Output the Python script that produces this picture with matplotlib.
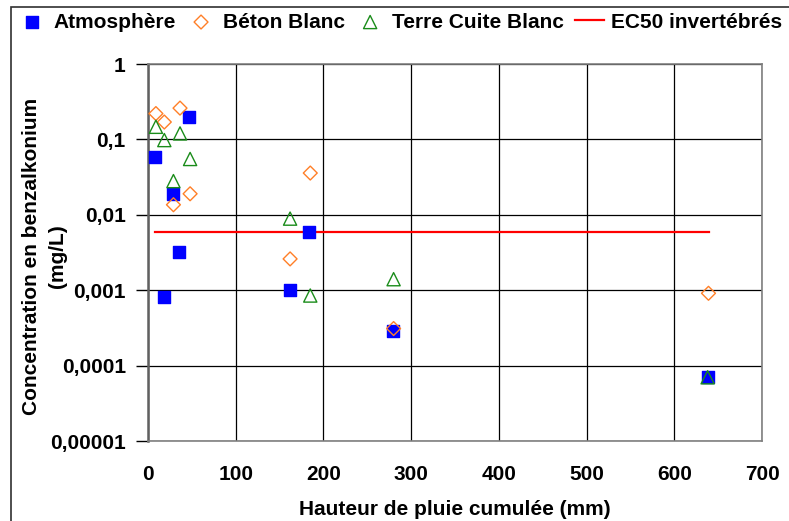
import matplotlib
matplotlib.use("Agg")
import matplotlib.pyplot as plt
from matplotlib.patches import Rectangle
from matplotlib.ticker import FixedLocator, FixedFormatter, NullLocator

plt.rcParams['font.family'] = ['Liberation Sans', 'DejaVu Sans']
plt.rcParams['font.weight'] = 'bold'

# Data
atm_x = [8, 47, 28.5, 35, 18, 184, 161.5, 279, 638]
atm_y = [0.058, 0.2, 0.019, 0.0032, 0.00081, 0.006, 0.001, 0.00029, 0.00007]

beton_x = [9, 36.5, 18.6, 48, 29, 185, 162, 280, 639]
beton_y = [0.22, 0.26, 0.17, 0.019, 0.0136, 0.0358, 0.0026, 0.00031, 0.00091]

terre_x = [9, 18.6, 36.5, 48, 29, 162, 185, 280, 638]
terre_y = [0.147, 0.098, 0.12, 0.055, 0.028, 0.0089, 0.00085, 0.0014, 0.00007]

ec50_x = [8, 640]
ec50_y = [0.006, 0.006]

x_ticks = [0, 100, 200, 300, 400, 500, 600, 700]
y_ticks = [0.00001, 0.0001, 0.001, 0.01, 0.1, 1]
y_tick_labels = ['0,00001', '0,0001', '0,001', '0,01', '0,1', '1']

FS = 15

fig = plt.figure(figsize=(7.89, 5.21), dpi=100)
ax = fig.add_axes([148/789, 1-441/521, (762-148)/789, (441-64)/521])

ax.plot(ec50_x, ec50_y, color='#ff0000', lw=1.6, label='EC50 invertébrés', zorder=2)
ax.scatter(atm_x, atm_y, marker='s', s=64, color='#0000ff', edgecolors='#0000ff',
           label='Atmosphère', zorder=3)
ax.scatter(beton_x, beton_y, marker='D', s=50, facecolors='none', edgecolors='#ff7f27',
           linewidths=1.0, label='Béton Blanc', zorder=4)
ax.scatter(terre_x, terre_y, marker='^', s=90, facecolors='none', edgecolors='#1a8c1a',
           linewidths=1.0, label='Terre Cuite Blanc', zorder=5)

ax.set_yscale('log')
ax.set_xlim(0, 700)
ax.set_ylim(0.00001, 1)
ax.xaxis.set_major_locator(FixedLocator(x_ticks))
ax.yaxis.set_major_locator(FixedLocator(y_ticks))
ax.yaxis.set_major_formatter(FixedFormatter(y_tick_labels))
ax.yaxis.set_minor_locator(NullLocator())
ax.grid(True, color='black', lw=0.9)
ax.set_axisbelow(True)
for s in ax.spines.values():
    s.set_color('#808080')
    s.set_linewidth(1.2)
ax.spines['left'].set_color('#606060')
ax.spines['left'].set_linewidth(1.8)
ax.tick_params(axis='y', direction='out', length=9, width=1, color='black',
               labelsize=FS, pad=7)
ax.tick_params(axis='x', direction='out', length=0, labelsize=FS, pad=17)
for lab in ax.get_xticklabels() + ax.get_yticklabels():
    lab.set_fontweight('bold')

ax.set_xlabel('Hauteur de pluie cumulée (mm)', fontsize=FS, fontweight='bold', labelpad=12)
fig.text(32/789, 1-256/521, 'Concentration en benzalkonium', fontsize=FS,
         fontweight='bold', rotation=90, ha='center', va='center')
fig.text(57/789, 1-256/521, '(mg/L)', fontsize=FS,
         fontweight='bold', rotation=90, ha='center', va='center')

handles, labels = ax.get_legend_handles_labels()
order = [1, 2, 3, 0]
leg = fig.legend([handles[i] for i in order], [labels[i] for i in order],
                 loc='center left', bbox_to_anchor=(17/789, 1-22/521), ncol=4,
                 frameon=False, prop={'weight': 'bold', 'size': FS},
                 handlelength=1.4, handletextpad=0.34, columnspacing=0.52,
                 markerscale=1.0, borderaxespad=0, borderpad=0)

# Outer chart-area border (cut off on right and bottom)
fig.patches.append(Rectangle((11/789, -0.05), 1.2, 1-7/521+0.05, transform=fig.transFigure,
                             fill=False, edgecolor='#303030', lw=1.2))

fig.savefig('out.png', dpi=100)
